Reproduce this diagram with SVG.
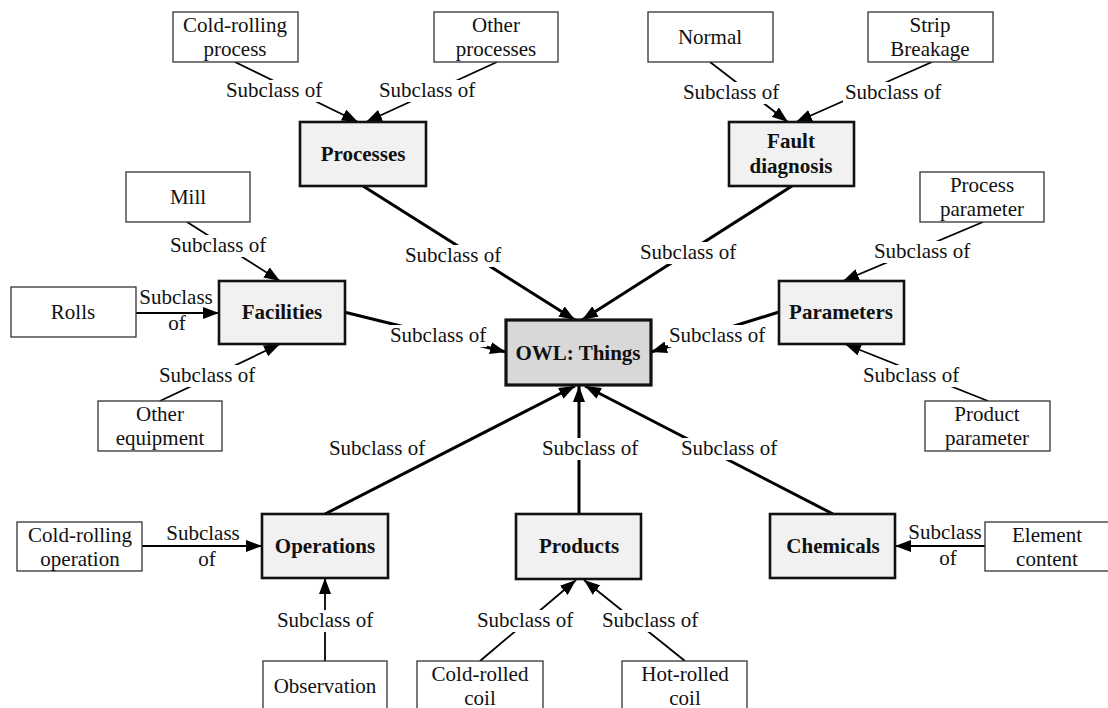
<svg xmlns="http://www.w3.org/2000/svg" width="1108" height="708" viewBox="0 0 1108 708">
  <style>
    text { font-family: "Liberation Serif", "Times New Roman", Times, "DejaVu Serif", serif; font-size: 21px; text-anchor: middle; fill: #111; }
    .leaf rect { fill: #fff; stroke: #333; stroke-width: 1.3; }
    .main rect { fill: #f1f1f1; stroke: #111; stroke-width: 2.6; }
    .root rect { fill: #d8d8d8; stroke: #111; stroke-width: 3.2; }
    .main text, .root text { font-weight: bold; }
    .thin { fill: none; stroke: #000; stroke-width: 1.8; marker-end: url(#arrow); }
    .thick { fill: none; stroke: #000; stroke-width: 3; marker-end: url(#arrow); }
    .lbg { fill: #fff; stroke: none; }
  </style>
  <defs>
    <marker id="arrow" viewBox="0 0 16 12" refX="16" refY="6" markerWidth="16" markerHeight="12" markerUnits="userSpaceOnUse" orient="auto">
      <path d="M0,0 L16,6 L0,12 z" fill="#000"/>
    </marker>
  </defs>

  <rect width="1108" height="708" fill="#fff"/>

  <!-- connectors: "subclass of" relations, child to parent -->
  <g id="connectors">
    <!-- into Processes -->
    <path class="thin" d="M235,62 L358,122"/>
    <path class="thin" d="M497,62 L366,122"/>
    <!-- into Fault diagnosis -->
    <path class="thin" d="M710,62 L788,122"/>
    <path class="thin" d="M932,62 L796,122"/>
    <!-- into Facilities -->
    <path class="thin" d="M187,222 L280,281"/>
    <path class="thin" d="M136,313 L219,313"/>
    <path class="thin" d="M160,401 L280,344"/>
    <!-- into Parameters -->
    <path class="thin" d="M983,222 L843,281"/>
    <path class="thin" d="M988,401 L845,344"/>
    <!-- into Operations -->
    <path class="thin" d="M142,546 L262,546"/>
    <path class="thin" d="M325,661 L325,578"/>
    <!-- into Products -->
    <path class="thin" d="M480,661 L576,580"/>
    <path class="thin" d="M685,661 L584,580"/>
    <!-- into Chemicals -->
    <path class="thin" d="M985,546 L895,546"/>

    <!-- into OWL: Things -->
    <path class="thick" d="M363,186 L575,320"/>
    <path class="thick" d="M792,186 L582,320"/>
    <path class="thick" d="M344,312 L506,352"/>
    <path class="thick" d="M779,312 L651,352"/>
    <path class="thick" d="M325,514 L575,386"/>
    <path class="thick" d="M579,514 L579,386"/>
    <path class="thick" d="M833,514 L585,386"/>

    <!-- relation labels -->
    <g id="labels">
      <rect class="lbg" x="224" y="80" width="100" height="22"/>
      <text x="274" y="97">Subclass of</text>
      <rect class="lbg" x="377" y="80" width="100" height="22"/>
      <text x="427" y="97">Subclass of</text>
      <rect class="lbg" x="681" y="82" width="100" height="22"/>
      <text x="731" y="99">Subclass of</text>
      <rect class="lbg" x="843" y="82" width="100" height="22"/>
      <text x="893" y="99">Subclass of</text>

      <rect class="lbg" x="168" y="235" width="100" height="22"/>
      <text x="218" y="252">Subclass of</text>
      <text x="176" y="304">Subclass</text>
      <text x="177" y="330">of</text>
      <rect class="lbg" x="157" y="365" width="100" height="22"/>
      <text x="207" y="382">Subclass of</text>

      <rect class="lbg" x="872" y="241" width="100" height="22"/>
      <text x="922" y="258">Subclass of</text>
      <rect class="lbg" x="861" y="365" width="100" height="22"/>
      <text x="911" y="382">Subclass of</text>

      <text x="203" y="540">Subclass</text>
      <text x="207" y="566">of</text>
      <rect class="lbg" x="275" y="610" width="100" height="22"/>
      <text x="325" y="627">Subclass of</text>

      <rect class="lbg" x="475" y="610" width="100" height="22"/>
      <text x="525" y="627">Subclass of</text>
      <rect class="lbg" x="600" y="610" width="100" height="22"/>
      <text x="650" y="627">Subclass of</text>

      <text x="945" y="539">Subclass</text>
      <text x="948" y="565">of</text>

      <rect class="lbg" x="403" y="245" width="100" height="22"/>
      <text x="453" y="262">Subclass of</text>
      <rect class="lbg" x="638" y="242" width="100" height="22"/>
      <text x="688" y="259">Subclass of</text>
      <rect class="lbg" x="389" y="325" width="98" height="22"/>
      <text x="438" y="342">Subclass of</text>
      <rect class="lbg" x="668" y="325" width="98" height="22"/>
      <text x="717" y="342">Subclass of</text>
      <rect class="lbg" x="327" y="438" width="100" height="22"/>
      <text x="377" y="455">Subclass of</text>
      <rect class="lbg" x="540" y="438" width="100" height="22"/>
      <text x="590" y="455">Subclass of</text>
      <rect class="lbg" x="679" y="438" width="100" height="22"/>
      <text x="729" y="455">Subclass of</text>
    </g>
  </g>

  <!-- root class -->
  <g id="owl-things" class="root">
    <rect x="506" y="320" width="145" height="65"/>
    <text x="578" y="360">OWL: Things</text>
  </g>

  <!-- first-level classes -->
  <g id="processes" class="main">
    <rect x="300" y="122" width="126" height="64"/>
    <text x="363" y="161">Processes</text>
  </g>
  <g id="fault-diagnosis" class="main">
    <rect x="729" y="122" width="125" height="64"/>
    <text x="791" y="148">Fault</text>
    <text x="791" y="173">diagnosis</text>
  </g>
  <g id="facilities" class="main">
    <rect x="219" y="281" width="126" height="63"/>
    <text x="282" y="319">Facilities</text>
  </g>
  <g id="parameters" class="main">
    <rect x="779" y="281" width="125" height="63"/>
    <text x="841" y="319">Parameters</text>
  </g>
  <g id="operations" class="main">
    <rect x="262" y="514" width="126" height="64"/>
    <text x="325" y="553">Operations</text>
  </g>
  <g id="products" class="main">
    <rect x="516" y="514" width="125" height="65"/>
    <text x="579" y="553">Products</text>
  </g>
  <g id="chemicals" class="main">
    <rect x="770" y="514" width="125" height="64"/>
    <text x="833" y="553">Chemicals</text>
  </g>

  <!-- leaf classes -->
  <g id="cold-rolling-process" class="leaf">
    <rect x="173" y="12" width="125" height="50"/>
    <text x="235" y="32">Cold-rolling</text>
    <text x="235" y="56">process</text>
  </g>
  <g id="other-processes" class="leaf">
    <rect x="434" y="12" width="124" height="50"/>
    <text x="496" y="32">Other</text>
    <text x="496" y="56">processes</text>
  </g>
  <g id="normal" class="leaf">
    <rect x="648" y="12" width="125" height="50"/>
    <text x="710" y="44">Normal</text>
  </g>
  <g id="strip-breakage" class="leaf">
    <rect x="868" y="12" width="125" height="50"/>
    <text x="930" y="32">Strip</text>
    <text x="930" y="56">Breakage</text>
  </g>
  <g id="mill" class="leaf">
    <rect x="126" y="172" width="124" height="50"/>
    <text x="188" y="204">Mill</text>
  </g>
  <g id="rolls" class="leaf">
    <rect x="11" y="287" width="125" height="50"/>
    <text x="73" y="319">Rolls</text>
  </g>
  <g id="other-equipment" class="leaf">
    <rect x="98" y="401" width="124" height="50"/>
    <text x="160" y="421">Other</text>
    <text x="160" y="445">equipment</text>
  </g>
  <g id="process-parameter" class="leaf">
    <rect x="920" y="172" width="124" height="50"/>
    <text x="982" y="192">Process</text>
    <text x="982" y="216">parameter</text>
  </g>
  <g id="product-parameter" class="leaf">
    <rect x="925" y="401" width="125" height="50"/>
    <text x="987" y="421">Product</text>
    <text x="987" y="445">parameter</text>
  </g>
  <g id="cold-rolling-operation" class="leaf">
    <rect x="17" y="522" width="125" height="49"/>
    <text x="80" y="542">Cold-rolling</text>
    <text x="80" y="566">operation</text>
  </g>
  <g id="observation" class="leaf">
    <rect x="263" y="661" width="124" height="50"/>
    <text x="325" y="693">Observation</text>
  </g>
  <g id="cold-rolled-coil" class="leaf">
    <rect x="417" y="661" width="126" height="50"/>
    <text x="480" y="681">Cold-rolled</text>
    <text x="480" y="705">coil</text>
  </g>
  <g id="hot-rolled-coil" class="leaf">
    <rect x="622" y="661" width="125" height="50"/>
    <text x="685" y="681">Hot-rolled</text>
    <text x="685" y="705">coil</text>
  </g>
  <g id="element-content" class="leaf">
    <rect x="985" y="522" width="125" height="49"/>
    <text x="1047" y="542">Element</text>
    <text x="1047" y="566">content</text>
  </g>
</svg>
